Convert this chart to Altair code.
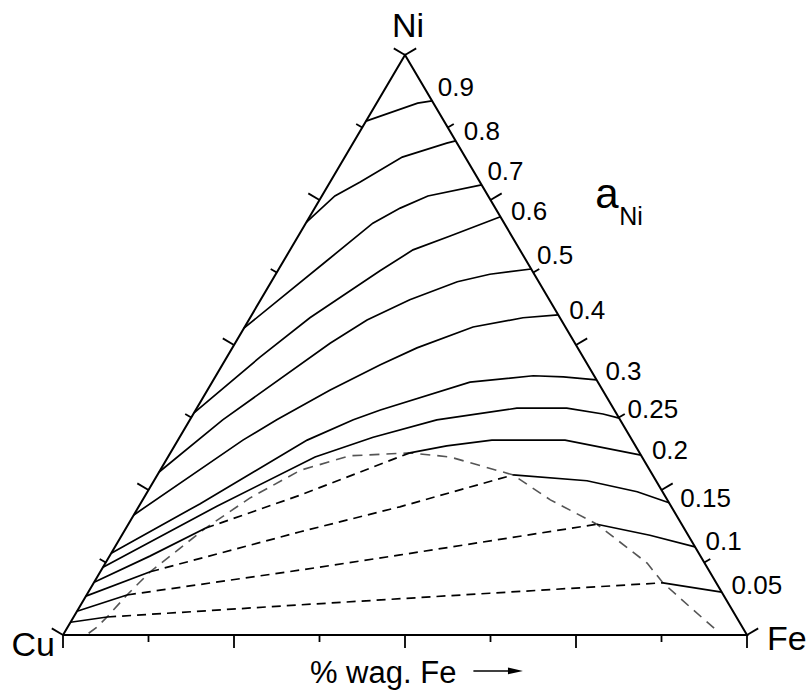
import altair as alt
import pandas as pd

# ---------------- data (wt% Fe, wt% Ni) ----------------
ISO_LEVELS = ["0.9", "0.8", "0.7", "0.6", "0.5", "0.4", "0.3", "0.25", "0.2", "0.15", "0.1", "0.05"]

# solid iso-activity lines (left part for the levels that cross the two-phase region)
ISO_FE = {
    "0.9": [0, 6.0, 7.9],
    "0.8": [0, 1.9, 4.4, 8.4, 13.7, 14.8],
    "0.7": [0, 6.4, 9.8, 12.5, 15.5, 22.4],
    "0.6": [0, 4.85, 8.75, 14.95, 17.97, 22.2, 27.9],
    "0.5": [0, 4.8, 13.9, 17.3, 21.8, 27.2, 31.3, 36.9],
    "0.4": [0, 9.5, 12.7, 17.9, 23.1, 27.0, 33.4, 39.9, 44.8],
    "0.3": [0, 8.7, 18.9, 23.9, 27.0, 37.7, 46.4, 50.9, 56.0],
    "0.25": [0, 11.4, 21.5, 28.3, 36.1, 46.8, 54.1, 59.9, 62.6],
    "0.2": [0, 5.9, 11.6],
    "0.15": [0, 7.3],
    "0.1": [0, 5.9],
    "0.05": [0, 4.9],
}
ISO_NI = {
    "0.9": [88.6, 91.7, 92.1],
    "0.8": [71.2, 75.7, 78.1, 82.4, 84.8, 85.2],
    "0.7": [52.9, 64.7, 71.0, 73.6, 75.7, 77.6],
    "0.6": [38.3, 47.9, 54.7, 62.8, 66.4, 68.8, 72.1],
    "0.5": [28.1, 37.1, 50.3, 54.3, 57.8, 60.9, 62.2, 63.1],
    "0.4": [20.7, 33.6, 37.1, 42.2, 46.6, 49.5, 53.1, 54.7, 55.2],
    "0.3": [14.1, 22.6, 33.6, 37.1, 38.8, 43.6, 44.7, 44.5, 44.0],
    "0.25": [11.7, 22.2, 30.7, 34.1, 37.1, 39.1, 39.1, 38.1, 37.4],
    "0.2": [9.1, 13.6, 18.4],
    "0.15": [6.7, 10.9],
    "0.1": [4.1, 6.9],
    "0.05": [2.2, 3.1],
}
# right solid parts (beyond the two-phase region)
RIGHT_FE = {
    "0.2": [35.0, 39.8, 45.9, 56.6, 69.0],
    "0.15": [52.0, 63.3, 71.6, 77.2],
    "0.1": [68.5, 77.2, 84.8],
    "0.05": [83.2, 92.6],
}
RIGHT_NI = {
    "0.2": [31.4, 32.6, 33.6, 33.6, 31.0],
    "0.15": [27.6, 26.6, 24.7, 22.8],
    "0.1": [19.1, 17.2, 15.2],
    "0.05": [9.0, 7.4],
}
# tie-lines inside the miscibility gap (dashed)
TIE_FE = {
    "0.2": [11.6, 22.6, 35.0],
    "0.15": [7.3, 25.8, 38.2, 52.0],
    "0.1": [5.9, 29.1, 42.4, 68.5],
    "0.05": [4.9, 32.1, 58.8, 83.2],
}
TIE_NI = {
    "0.2": [18.4, 24.1, 31.4],
    "0.15": [10.9, 17.8, 22.1, 27.6],
    "0.1": [6.9, 11.2, 13.8, 19.1],
    "0.05": [3.1, 5.2, 7.2, 9.0],
}
# binodal (boundary of the miscibility gap)
DOME_FE = [3.6, 4.3, 4.9, 5.9, 7.3, 11.6, 15.5, 20.5, 26.5, 35.0, 41.2, 52.0, 59.6, 68.5, 79.2, 83.2, 89.3, 95.0]
DOME_NI = [0.3, 1.4, 3.1, 6.9, 10.9, 18.4, 23.6, 28.4, 30.9, 31.4, 30.7, 27.6, 23.3, 19.1, 12.4, 9.0, 4.8, 0.9]

# where the a_Ni labels sit along the Fe-Ni side (wt% Ni)
LABEL_NI = [94.5, 86.9, 80.0, 73.1, 65.5, 56.1, 45.5, 39.0, 31.9, 23.6, 16.2, 8.6]

TICK_FRACTIONS = [k / 8 for k in range(9)]
VERTICES = ["Cu", "Fe", "Ni"]
VERTEX_FE = [0, 100, 0]
VERTEX_NI = [0, 0, 100]

# ---------------- layout ----------------
PW, PH = 684, 580
FONT = "Liberation Sans"


def to_xy(fe, ni):
    return (fe + ni / 2.0) / 100.0, ni / 100.0


def line_frame(fe_dict, ni_dict, prefix):
    rows = []
    for lev in fe_dict:
        for i, (f, n) in enumerate(zip(fe_dict[lev], ni_dict[lev])):
            x, y = to_xy(f, n)
            rows.append({"seg": prefix + lev, "i": i, "x": x, "y": y})
    return pd.DataFrame(rows)


solid_df = pd.concat([line_frame(ISO_FE, ISO_NI, "L"), line_frame(RIGHT_FE, RIGHT_NI, "R")])
tie_df = line_frame(TIE_FE, TIE_NI, "T")
dome_rows = []
for i, (f, n) in enumerate(zip(DOME_FE, DOME_NI)):
    x, y = to_xy(f, n)
    dome_rows.append({"i": i, "x": x, "y": y})
dome_df = pd.DataFrame(dome_rows)

# triangle outline
tri_rows = []
for i, k in enumerate([0, 1, 2, 0]):
    x, y = to_xy(VERTEX_FE[k], VERTEX_NI[k])
    tri_rows.append({"i": i, "x": x, "y": y})
tri_df = pd.DataFrame(tri_rows)

# ticks (perpendicular to each side, pointing outwards)
NX, NY = 0.8614, 0.5079
tick_rows = []
for k, t in enumerate(TICK_FRACTIONS):
    L = 13 if k % 2 == 0 else 7
    # bottom side Cu-Fe
    tick_rows.append({"x": t, "y": 0, "x2": t, "y2": -L / PH})
    # left side Cu-Ni
    x, y = to_xy(0, 100 * t)
    tick_rows.append({"x": x, "y": y, "x2": x - NX * L / PW, "y2": y + NY * L / PH})
    # right side Fe-Ni
    x, y = to_xy(100 - 100 * t, 100 * t)
    tick_rows.append({"x": x, "y": y, "x2": x + NX * L / PW, "y2": y + NY * L / PH})
tick_df = pd.DataFrame(tick_rows)

lab_rows = []
for lev, n in zip(ISO_LEVELS, LABEL_NI):
    x, y = to_xy(100 - n, n)
    lab_rows.append({"x": x, "y": y, "t": lev})
lab_df = pd.DataFrame(lab_rows)

vx = {}
for name, f, n in zip(VERTICES, VERTEX_FE, VERTEX_NI):
    vx[name] = to_xy(f, n)

xs = alt.Scale(domain=[0, 1], nice=False, zero=False)
ys = alt.Scale(domain=[0, 1], nice=False, zero=False)
X = lambda f="x": alt.X(f"{f}:Q", scale=xs, axis=None)
Y = lambda f="y": alt.Y(f"{f}:Q", scale=ys, axis=None)

tri = alt.Chart(tri_df).mark_line(color="black", strokeWidth=2, clip=False).encode(
    x=X(), y=Y(), order="i:Q")
ticks = alt.Chart(tick_df).mark_rule(color="black", strokeWidth=1.8, clip=False).encode(
    x=X(), y=Y(), x2="x2:Q", y2="y2:Q")
solid = alt.Chart(solid_df).mark_line(color="black", strokeWidth=1.7, clip=False).encode(
    x=X(), y=Y(), detail="seg:N", order="i:Q")
tie = alt.Chart(tie_df).mark_line(color="black", strokeWidth=1.7, strokeDash=[9, 6], clip=False).encode(
    x=X(), y=Y(), detail="seg:N", order="i:Q")
dome = alt.Chart(dome_df).mark_line(color="#555555", strokeWidth=1.6, strokeDash=[10, 7], clip=False).encode(
    x=X(), y=Y(), order="i:Q")
labels = alt.Chart(lab_df).mark_text(font=FONT, fontSize=26, align="left", baseline="alphabetic",
                                     dx=14, dy=9, color="black").encode(x=X(), y=Y(), text="t:N")


def single_text(txt, x, y, **kw):
    df = pd.DataFrame({"x": [x], "y": [y], "t": [txt]})
    return alt.Chart(df).mark_text(font=FONT, color="black", **kw).encode(x=X(), y=Y(), text="t:N")


cu = single_text("Cu", vx["Cu"][0], vx["Cu"][1], fontSize=34, align="right", baseline="alphabetic", dx=-8, dy=21)
fe = single_text("Fe", vx["Fe"][0], vx["Fe"][1], fontSize=34, align="left", baseline="alphabetic", dx=20, dy=15)
ni = single_text("Ni", vx["Ni"][0], vx["Ni"][1], fontSize=34, align="center", baseline="alphabetic", dx=3, dy=-18)

# a_Ni legend text (placed in plot units)
a_txt = single_text("a", 0.778, 0.736, fontSize=42, align="left", baseline="alphabetic")
sub_txt = single_text("Ni", 0.778, 0.736, fontSize=25, align="left", baseline="alphabetic", dx=24, dy=17)

# axis caption with arrow
cap = single_text("% wag. Fe", 0.361, 0.0, fontSize=31, align="left", baseline="alphabetic", dy=48)
arrow_df = pd.DataFrame({"x": [0.600], "x2": [0.664], "y": [-0.062]})
arrow_line = alt.Chart(arrow_df).mark_rule(color="black", strokeWidth=1.6, clip=False).encode(
    x=X(), x2="x2:Q", y=Y())
head_df = pd.DataFrame({"x": [0.6615], "y": [-0.062]})
arrow_head = alt.Chart(head_df).mark_point(shape="M-1,-0.45L1,0L-1,0.45Z", size=225, filled=True,
                                           color="black", opacity=1, strokeWidth=0, clip=False).encode(
    x=X(), y=Y())

chart = alt.layer(tri, dome, tie, solid, ticks, labels, cu, fe, ni, a_txt, sub_txt, cap, arrow_line, arrow_head).properties(
    width=PW, height=PH,
    padding={"left": 63, "top": 55, "right": 65, "bottom": 56},
    autosize=alt.AutoSizeParams(type="none"),
    background="white",
).configure_view(stroke=None)

chart.save("out.html", embed_options={"renderer": "svg", "actions": False})
